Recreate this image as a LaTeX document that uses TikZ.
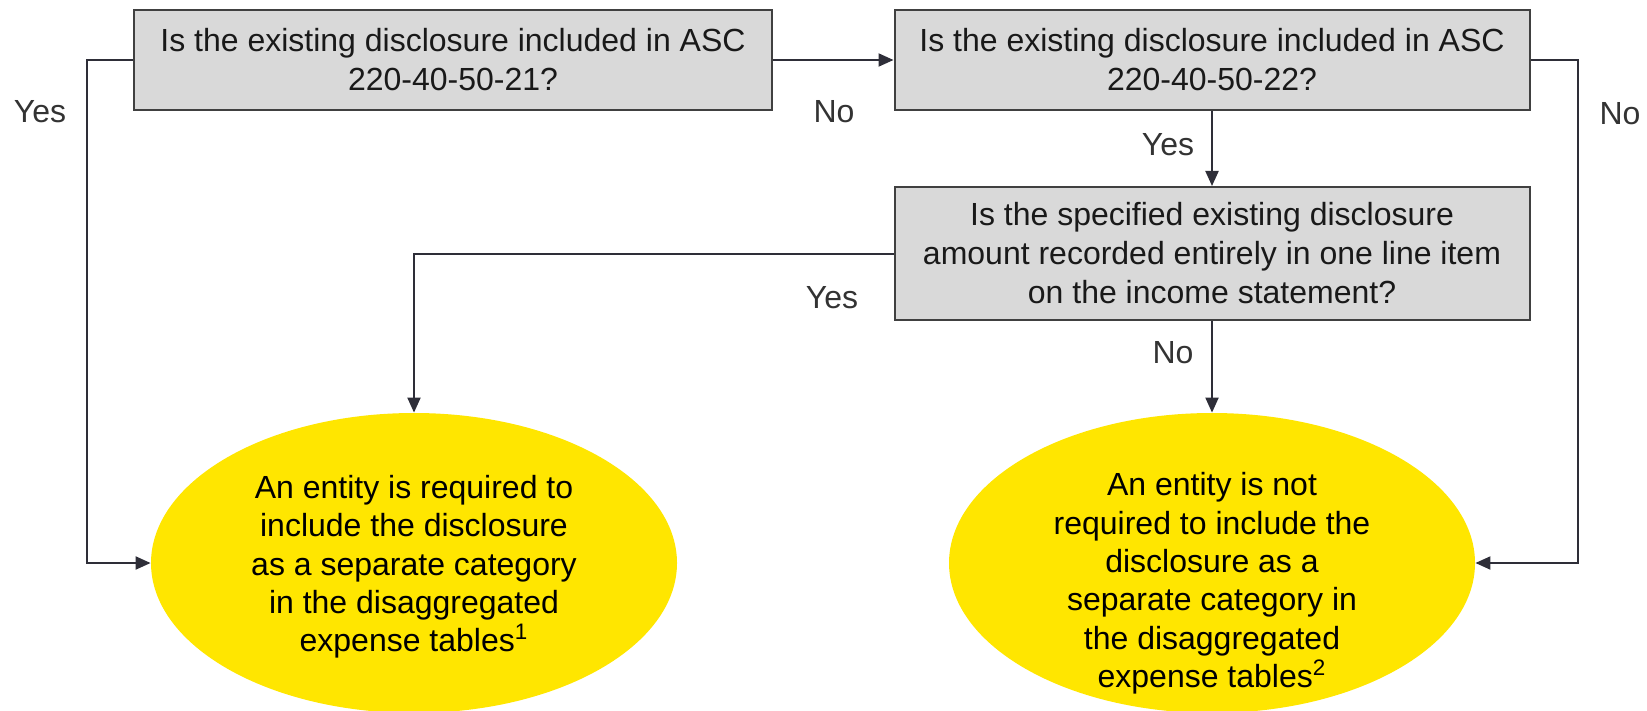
\documentclass[tikz,border=0pt]{standalone}
\usepackage{fontspec}
\setmainfont{Liberation Sans}
\usepackage{xcolor}
\usetikzlibrary{shapes.geometric, arrows.meta, positioning}

\definecolor{boxgray}{HTML}{D9D9D9}
\definecolor{boxline}{HTML}{404040}
\definecolor{flowline}{HTML}{2E2E38}
\definecolor{eyyellow}{HTML}{FFE600}
\definecolor{labelgray}{HTML}{333333}

\tikzset{
    question/.style={draw=boxline, line width=1pt, fill=boxgray, align=center,
        font=\fontsize{16}{19.5}\selectfont, text=black!90, inner sep=0pt},
    result/.style={ellipse, fill=eyyellow, align=center, inner xsep=0pt,
        inner ysep=-18pt, minimum width=263pt, minimum height=150pt,
        font=\fontsize{16}{19.2}\selectfont, text=black},
    answer/.style={font=\fontsize{16}{19.5}\selectfont, text=labelgray},
    flow/.style={draw=flowline, line width=1pt,
        -{Triangle[length=7.5pt, width=6.5pt]}}
}

\begin{document}
\begin{tikzpicture}[x=0.5pt, y=-0.5pt]
        \useasboundingbox (0,0) rectangle (1647,711);

        \node[question, minimum width=318.75pt, minimum height=49.75pt] (q1) at (453,60)
            {Is the existing disclosure included in ASC\\220-40-50-21?};
        \node[question, minimum width=317.5pt, minimum height=49.75pt] (q2) at (1212,60)
            {Is the existing disclosure included in ASC\\220-40-50-22?};
        \node[question, minimum width=317.5pt, minimum height=66.5pt] (q3) at (1212,253.5)
            {Is the specified existing disclosure\\amount recorded entirely in one line item\\on the income statement?};

        \node[result] (r1) at (414,563)
            {\rule{0pt}{15.5pt}An entity is required to\\include the disclosure\\as a separate category\\in the disaggregated\\expense tables\textsuperscript{1}};
        \node[result] (r2) at (1212,563)
            {\rule{0pt}{32pt}An entity is not\\required to include the\\disclosure as a\\separate category in\\the disaggregated\\expense tables\textsuperscript{2}};

        \coordinate (c1) at (87,60);
        \coordinate (c2) at (1578,60);

        \draw[flow] (q1.west) -- (c1) |- (r1.west);
        \draw[flow] (q1) -- (q2);
        \draw[flow] (q2.east) -- (c2) |- (r2.east);
        \draw[flow] (q2) -- (q3);
        \draw[flow] (q3.west) -| (r1.north);
        \draw[flow] (q3) -- (r2);

        \node[answer] (a1) at (40,112) {Yes};
        \node[answer] (a2) at (834,112) {No};
        \node[answer] (a3) at (1620,114) {No};
        \node[answer] (a4) at (1168,145) {Yes};
        \node[answer] (a5) at (832,298) {Yes};
        \node[answer] (a6) at (1173,353) {No};
    \end{tikzpicture}
\end{document}
